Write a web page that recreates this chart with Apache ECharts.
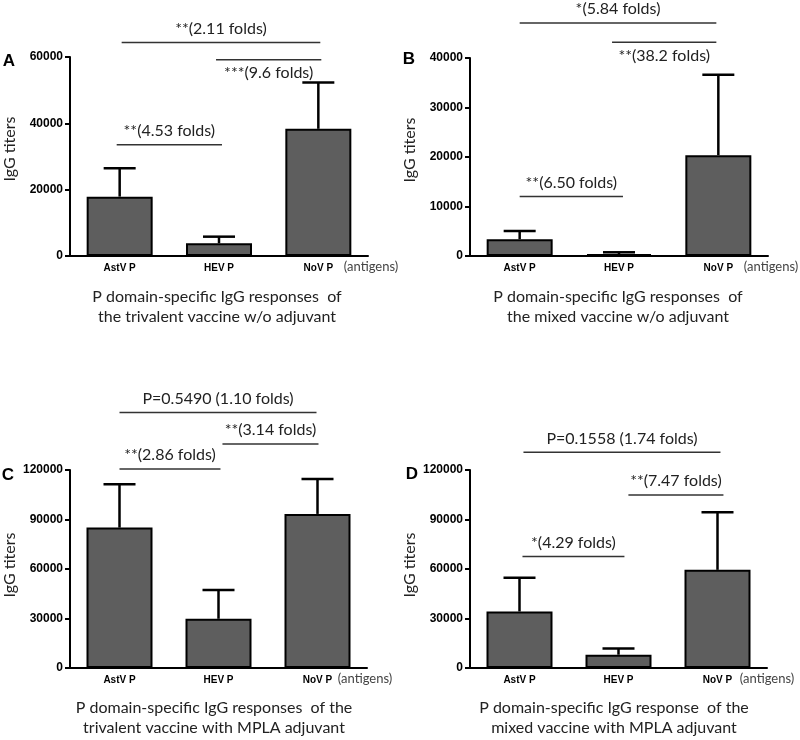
<!DOCTYPE html>
<html>
<head>
<meta charset="utf-8">
<script src="https://cdn.jsdelivr.net/npm/echarts@6/dist/echarts.min.js"></script>
<style>html,body{margin:0;padding:0;background:#fff;}#chart{width:800px;height:740px;}</style>
</head>
<body>
<div id="chart"></div>
<script>
// ---- data ----
const categories = ['AstV P', 'HEV P', 'NoV P'];

// mean titers and upper end of error bar (mean + SD)
const meanA = [17900, 3830, 38350];
const upperA = [26480, 5830, 52330];
const meanB = [3380, 400, 20370];
const upperB = [5060, 750, 36620];
const meanC = [85080, 29830, 93380];
const upperC = [111340, 47200, 114560];
const meanD = [34250, 8050, 59490];
const upperD = [54650, 11860, 94400];

// y axis ranges / tick steps
const yMaxes = [60000, 40000, 120000, 120000];
const yIntervals = [20000, 10000, 30000, 30000];

// significance annotations: label, from/to (category position), level (titer), side of label
const annA = [
  { label: '**(2.11 folds)', from: 0.02, to: 2.02, level: 64400, side: 'top' },
  { label: '***(9.6 folds)', from: 0.97, to: 2.03, level: 59200, side: 'bottom' },
  { label: '**(4.53 folds)', from: -0.03, to: 1.03, level: 33520, side: 'top' }
];
const annB = [
  { label: '*(5.84 folds)', from: 0.0, to: 1.98, level: 47080, side: 'top' },
  { label: '**(38.2 folds)', from: 0.93, to: 1.98, level: 43160, side: 'bottom' },
  { label: '**(6.50 folds)', from: 0.0, to: 1.04, level: 12000, side: 'top' }
];
const annC = [
  { label: 'P=0.5490 (1.10 folds)', from: 0.0, to: 1.99, level: 154920, side: 'top' },
  { label: '**(3.14 folds)', from: 1.04, to: 2.01, level: 135730, side: 'top' },
  { label: '**(2.86 folds)', from: 0.0, to: 1.02, level: 120600, side: 'top' }
];
const annD = [
  { label: 'P=0.1558 (1.74 folds)', from: 0.04, to: 2.03, level: 130700, side: 'top' },
  { label: '**(7.47 folds)', from: 1.1, to: 2.06, level: 104870, side: 'top' },
  { label: '*(4.29 folds)', from: 0.03, to: 1.06, level: 67530, side: 'top' }
];

const panelLetters = ['A', 'B', 'C', 'D'];
const yAxisTitle = 'IgG titers';
const antigenNote = '(antigens)';
const subtitles = [
  ['P domain-specific IgG responses  of', 'the trivalent vaccine w/o adjuvant'],
  ['P domain-specific IgG responses  of', 'the mixed vaccine w/o adjuvant'],
  ['P domain-specific IgG responses  of the', 'trivalent vaccine with MPLA adjuvant'],
  ['P domain-specific IgG response  of the', 'mixed vaccine with MPLA adjuvant']
];

const means = [meanA, meanB, meanC, meanD];
const uppers = [upperA, upperB, upperC, upperD];
const annotations = [annA, annB, annC, annD];

// ---- layout ----
const grids = [
  { left: 70, top: 57, width: 298, height: 199 },
  { left: 470, top: 58, width: 298, height: 198 },
  { left: 70, top: 470, width: 297, height: 198 },
  { left: 470, top: 470, width: 297, height: 198 }
];
const SERIF = 'Lato, "Open Sans", sans-serif';
const ARIAL = '"Liberation Sans", Arial, sans-serif';

const xAxes = [], yAxes = [], series = [], graphics = [];

grids.forEach((g, i) => {
  xAxes.push({
    type: 'category', gridIndex: i, data: categories,
    axisLine: { onZero: false, lineStyle: { color: '#000', width: 2 } },
    axisTick: { alignWithLabel: true, length: 4, lineStyle: { color: '#000', width: 1.5 } },
    axisLabel: { color: '#000', fontFamily: ARIAL, fontWeight: 'bold', fontSize: 10, margin: 7 }
  });
  yAxes.push({
    type: 'value', gridIndex: i, min: 0, max: yMaxes[i], interval: yIntervals[i],
    axisLine: { show: true, onZero: false, lineStyle: { color: '#000', width: 2 } },
    axisTick: { show: true, length: 5, lineStyle: { color: '#000', width: 2 } },
    axisLabel: { color: '#000', fontFamily: ARIAL, fontWeight: 'bold', fontSize: 12, margin: 7,
      formatter: v => String(v) },
    splitLine: { show: false }
  });
});
// hidden value axes used to place annotation lines between categories
grids.forEach((g, i) => {
  xAxes.push({ type: 'value', gridIndex: i, min: -0.5, max: 2.5, show: false,
    axisLine: { onZero: false }, splitLine: { show: false } });
});

grids.forEach((g, i) => {
  series.push({
    type: 'bar', xAxisIndex: i, yAxisIndex: i, data: means[i], barWidth: 66,
    itemStyle: { color: '#5e5e5e', borderColor: '#000', borderWidth: 2 },
    z: 2
  });
  series.push({
    type: 'custom', xAxisIndex: i, yAxisIndex: i, z: 3,
    data: categories.map((c, k) => [k, means[i][k], uppers[i][k]]),
    encode: { x: 0, y: [1, 2] },
    renderItem: function (params, api) {
      const base = api.coord([api.value(0), api.value(1)]);
      const top = api.coord([api.value(0), api.value(2)]);
      const half = 16;
      return {
        type: 'group',
        children: [
          { type: 'line', shape: { x1: base[0], y1: base[1], x2: top[0], y2: top[1] }, style: { stroke: '#000', lineWidth: 2.5 } },
          { type: 'line', shape: { x1: top[0] - half, y1: top[1], x2: top[0] + half, y2: top[1] }, style: { stroke: '#000', lineWidth: 2.5 } }
        ]
      };
    }
  });
  const ann = annotations[i];
  series.push({
    type: 'custom', xAxisIndex: 4 + i, yAxisIndex: i, z: 4, clip: false,
    data: ann.map(a => [a.from, a.to, a.level]),
    encode: { x: [0, 1], y: 2 },
    renderItem: function (params, api) {
      const a = ann[params.dataIndex];
      const p1 = api.coord([api.value(0), api.value(2)]);
      const p2 = api.coord([api.value(1), api.value(2)]);
      const off = a.side === 'top' ? -14 : 13;
      return {
        type: 'group',
        children: [
          { type: 'line', shape: { x1: p1[0], y1: p1[1], x2: p2[0], y2: p2[1] }, style: { stroke: '#333', lineWidth: 1.5 } },
          { type: 'text', x: (p1[0] + p2[0]) / 2, y: p1[1] + off,
            style: { text: a.label, fill: '#222', font: '16px ' + SERIF, textAlign: 'center', textVerticalAlign: 'middle' } }
        ]
      };
    }
  });
});

// texts: panel letters, axis titles, antigen note, subtitles
const letterPos = [[9, 61], [409, 59], [8, 475], [412, 474]];
const ytitlePos = [[10, 149], [410, 150], [10, 565], [410, 565]];
const notePos = [[371, 267], [771, 267], [365, 679], [767, 679]];
const subPos = [[217, 297, 317], [618, 297, 317], [214, 708, 728], [614, 708, 728]];
for (let i = 0; i < 4; i++) {
  graphics.push({ type: 'text', x: letterPos[i][0], y: letterPos[i][1],
    style: { text: panelLetters[i], font: 'bold 17px ' + ARIAL, fill: '#000', textAlign: 'center', textVerticalAlign: 'middle' } });
  graphics.push({ type: 'text', x: ytitlePos[i][0], y: ytitlePos[i][1], rotation: Math.PI / 2,
    style: { text: yAxisTitle, font: '16px ' + SERIF, fill: '#222', textAlign: 'center', textVerticalAlign: 'middle' } });
  graphics.push({ type: 'text', x: notePos[i][0], y: notePos[i][1],
    style: { text: antigenNote, font: '13px ' + SERIF, fill: '#444', textAlign: 'center', textVerticalAlign: 'middle' } });
  graphics.push({ type: 'text', x: subPos[i][0], y: subPos[i][1],
    style: { text: subtitles[i][0], font: '16px ' + SERIF, fill: '#222', textAlign: 'center', textVerticalAlign: 'middle' } });
  graphics.push({ type: 'text', x: subPos[i][0], y: subPos[i][2],
    style: { text: subtitles[i][1], font: '16px ' + SERIF, fill: '#222', textAlign: 'center', textVerticalAlign: 'middle' } });
}

const chart = echarts.init(document.getElementById('chart'), null, { renderer: 'canvas' });
chart.setOption({
  backgroundColor: '#fff',
  animation: false,
  grid: grids.map(g => Object.assign({ containLabel: false }, g)),
  xAxis: xAxes,
  yAxis: yAxes,
  series: series,
  graphic: graphics
});
</script>
</body>
</html>
